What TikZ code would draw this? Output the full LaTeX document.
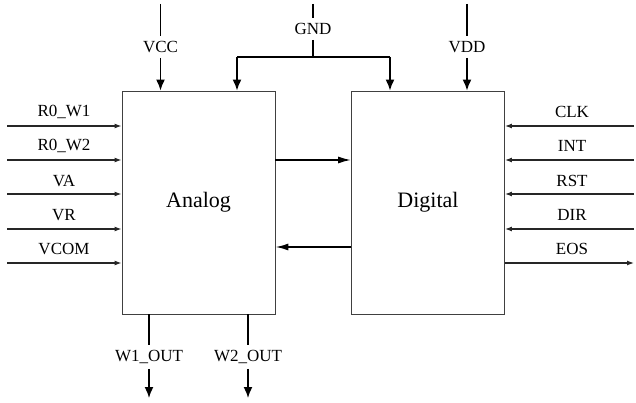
\documentclass[tikz,border=0pt]{standalone}
\usepackage{fontspec}
\setmainfont{Liberation Serif}
\usetikzlibrary{arrows.meta, positioning, calc}

\begin{document}
\begin{tikzpicture}[
    x=1pt, y=-1pt,
    font=\fontsize{17}{19}\selectfont,
    blk/.style  ={draw=black!75, line width=0.9pt, minimum width=153pt,
                  minimum height=223pt, font=\fontsize{22}{25}\selectfont},
    lbl/.style  ={inner xsep=1pt, inner ysep=5pt},
    sig/.style  ={-{Latex[length=7pt, width=5pt]}, line width=1.2pt, draw=black!85},
    pwr/.style  ={-{Latex[length=11pt, width=9pt]}, line width=1.6pt},
    bus/.style  ={-{Latex[length=13pt, width=7pt]}, line width=1.6pt},
    wire/.style ={line width=1.6pt}
]
\useasboundingbox (0,0) rectangle (636,403);

% Two main blocks
\node[blk] (ana) at (198.5,202.5) {Analog};
\node[blk] (dig) at (428,202.5)   {Digital};

% --- Left inputs of the analog block ---
\coordinate (rw1) at (7,126);
\coordinate (rw2) at (7,160);
\coordinate (va)  at (7,194);
\coordinate (vr)  at (7,229);
\coordinate (vcm) at (7,263);
\node[lbl] (rw1l) at (64,112) {R0\_W1};
\node[lbl] (rw2l) at (64,146) {R0\_W2};
\node[lbl] (val)  at (64,181) {VA};
\node[lbl] (vrl)  at (64,215) {VR};
\node[lbl] (vcml) at (64,249) {VCOM};
\draw[sig] (rw1) -- (rw1 -| ana.west);
\draw[sig] (rw2) -- (rw2 -| ana.west);
\draw[sig] (va)  -- (va -| ana.west);
\draw[sig] (vr)  -- (vr -| ana.west);
\draw[sig] (vcm) -- (vcm -| ana.west);

% --- Right side of the digital block ---
\coordinate (clk) at (634,126);
\coordinate (int) at (634,160);
\coordinate (rst) at (634,194);
\coordinate (dir) at (634,229);
\coordinate (eos) at (634,263);
\node[lbl] (clkl) at (572,112) {CLK};
\node[lbl] (intl) at (572,146) {INT};
\node[lbl] (rstl) at (572,181) {RST};
\node[lbl] (dirl) at (572,215) {DIR};
\node[lbl] (eosl) at (572,249) {EOS};
\draw[sig] (clk) -- (clk -| dig.east);
\draw[sig] (int) -- (int -| dig.east);
\draw[sig] (rst) -- (rst -| dig.east);
\draw[sig] (dir) -- (dir -| dig.east);
\draw[sig] (eos -| dig.east) -- (eos);

% --- Supplies on top ---
\coordinate (vccT) at (160.5,4);
\node[lbl] (vcc) at (160.5,47) {VCC};
\draw[wire] (vccT) -- (vcc.north);
\draw[pwr] (vcc.south) -- (vcc.south |- ana.north);

\coordinate (vddT) at (467,4);
\node[lbl] (vdd) at (467,47) {VDD};
\draw[wire] (vddT) -- (vdd.north);
\draw[pwr] (vdd.south) -- (vdd.south |- dig.north);

\coordinate (gndT) at (313,4);
\node[lbl] (gnd) at (313,29) {GND};
\coordinate (gndM) at (313,57);
\coordinate (gA) at (237,57);
\coordinate (gD) at (390,57);
\draw[wire] (gndT) -- (gnd.north);
\draw[wire] (gnd.south) -- (gndM);
\draw[wire] (gA) -- (gD);
\draw[pwr] (gA) -- (gA |- ana.north);
\draw[pwr] (gD) -- (gD |- dig.north);

% --- Links between the blocks ---
\draw[bus] ($(ana.east)+(0,-42.5)$) -- ($(dig.west)+(0,-42.5)$);
\draw[bus] ($(dig.west)+(0,44.5)$) -- ($(ana.east)+(0,44.5)$);

% --- Outputs below ---
\node[lbl] (w1) at (149,357) {W1\_OUT};
\node[lbl] (w2) at (248,357) {W2\_OUT};
\coordinate (w1B) at (149,398);
\coordinate (w2B) at (248,398);
\draw[wire] (w1 |- ana.south) -- (w1.north);
\draw[wire] (w2 |- ana.south) -- (w2.north);
\draw[pwr] (w1.south) -- (w1B);
\draw[pwr] (w2.south) -- (w2B);

\end{tikzpicture}
\end{document}
